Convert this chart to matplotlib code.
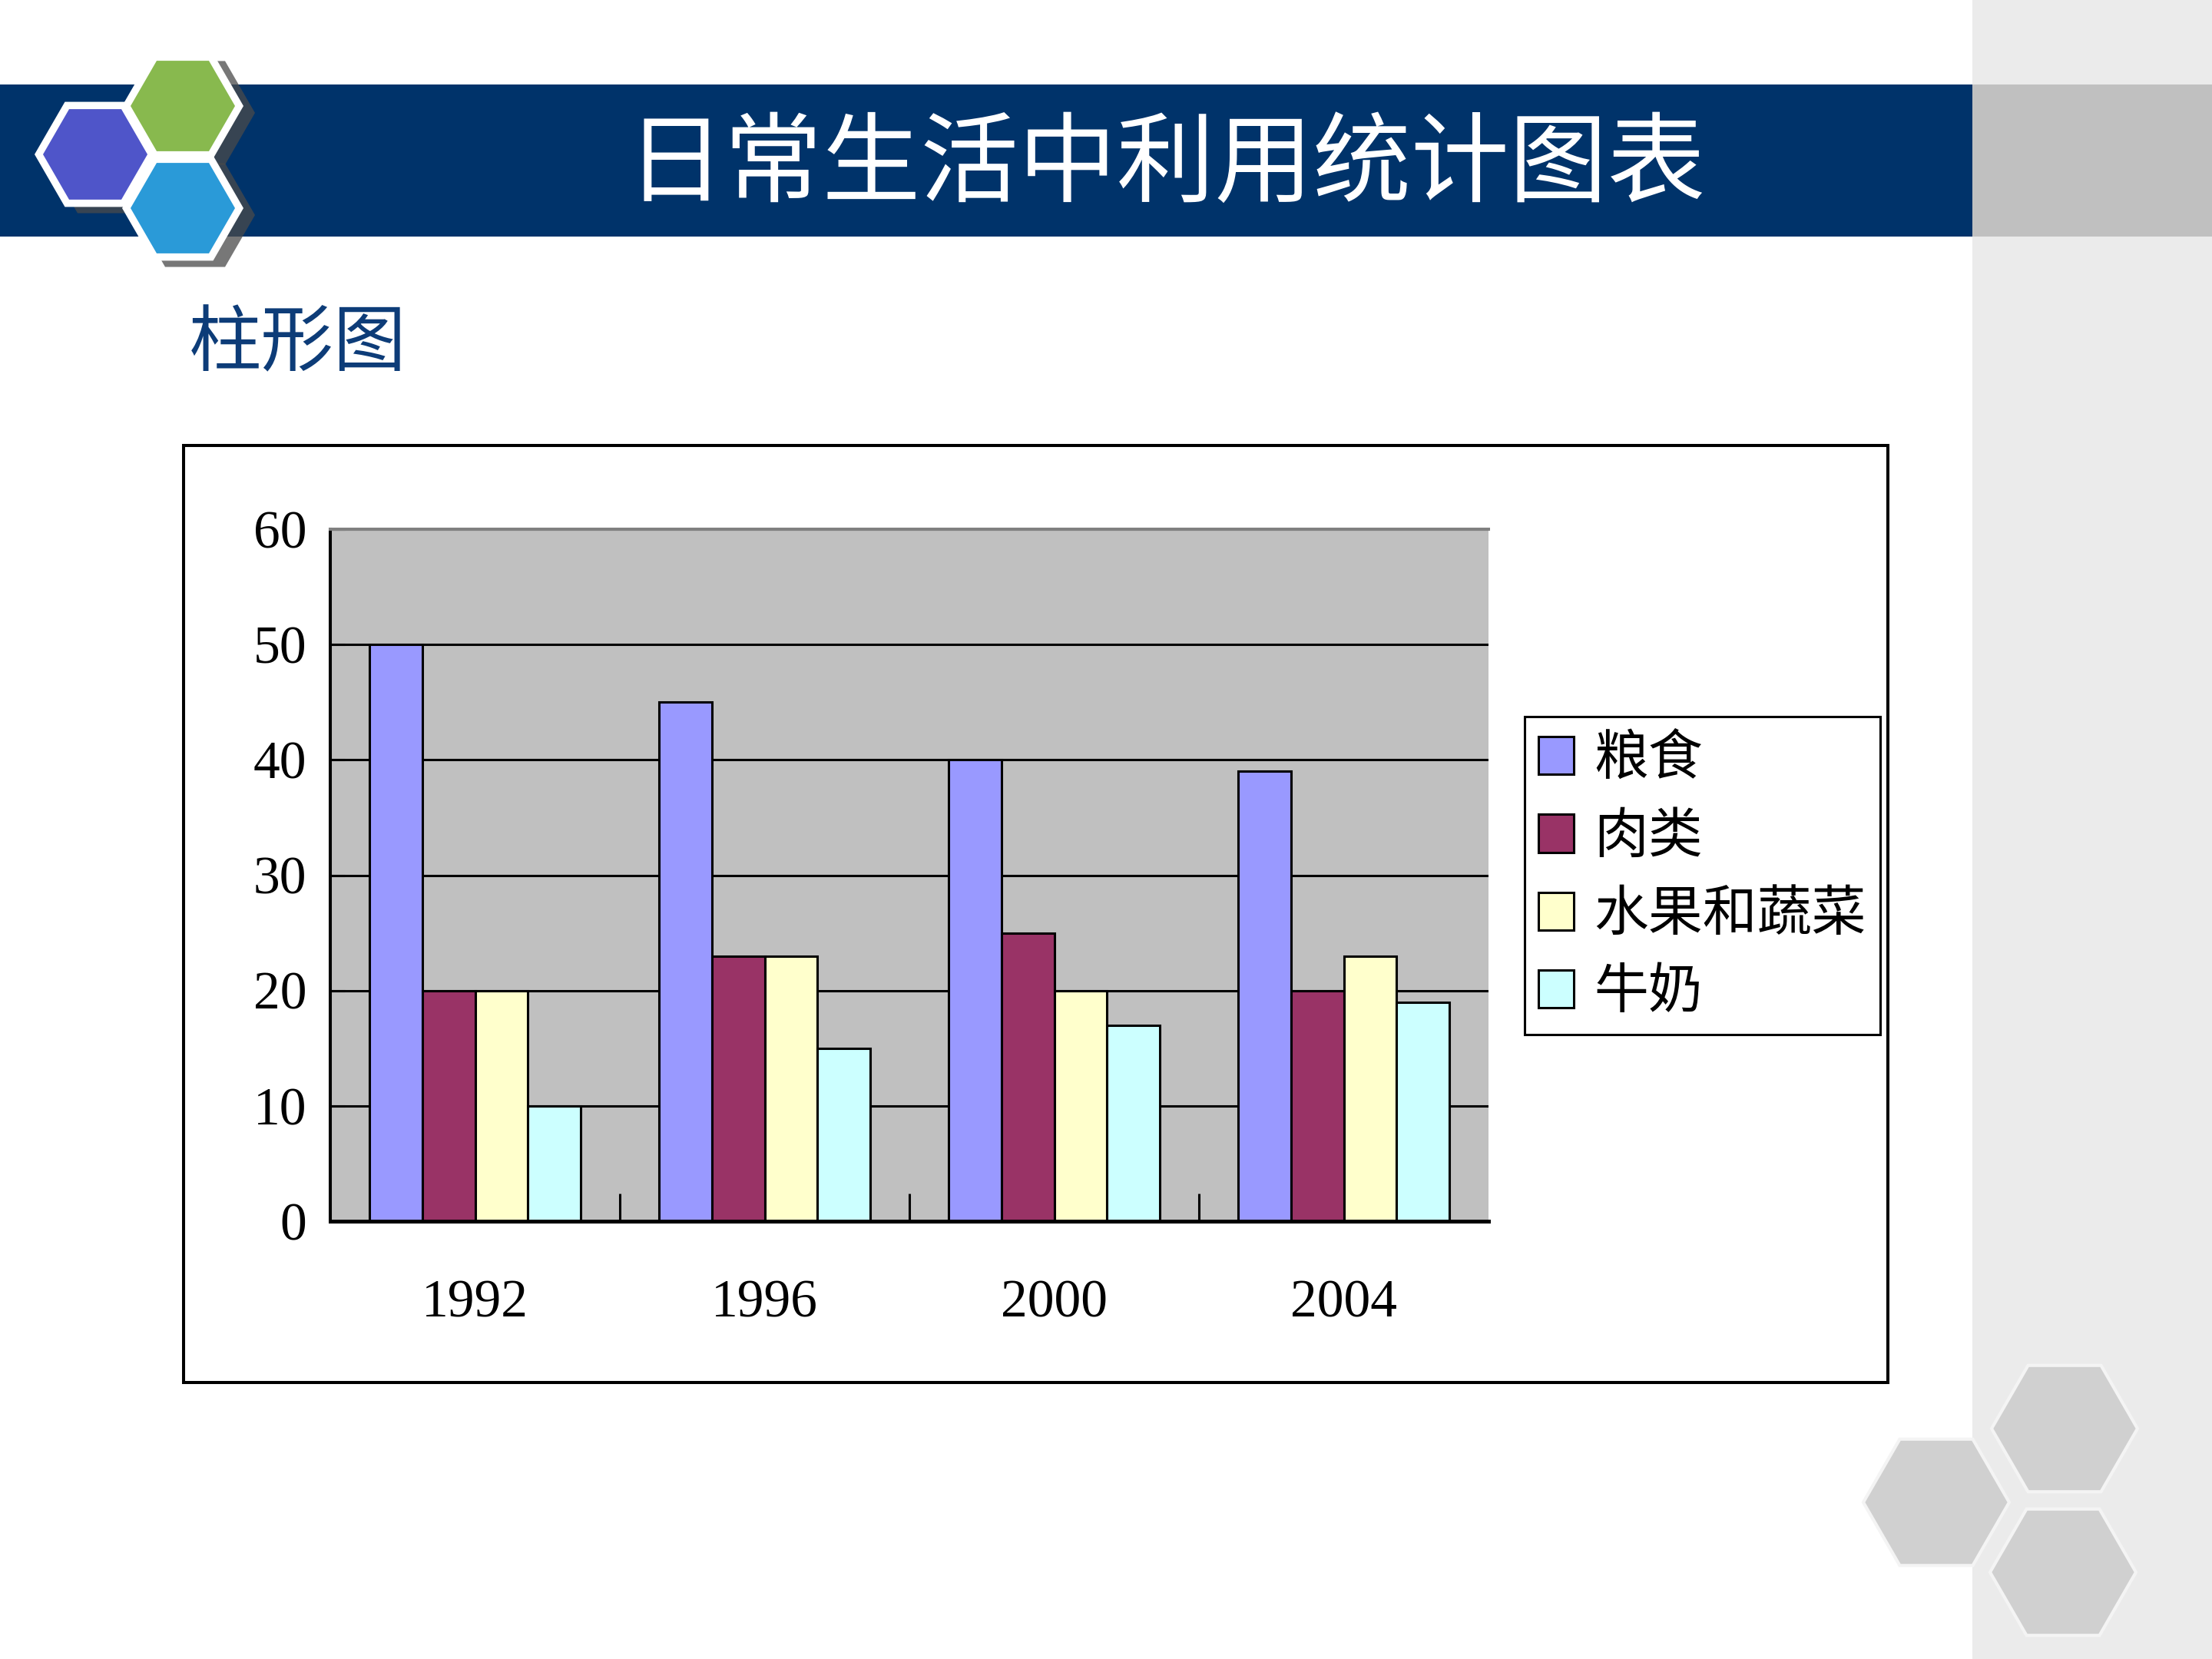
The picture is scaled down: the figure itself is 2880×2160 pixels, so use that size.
import numpy as np
import matplotlib
matplotlib.use("Agg")
import matplotlib.pyplot as plt
from matplotlib.patches import Rectangle, RegularPolygon

plt.rcParams["font.family"] = ["Liberation Serif", "Noto Sans CJK SC"]

years = ["1992", "1996", "2000", "2004"]
series = ["粮食", "肉类", "水果和蔬菜", "牛奶"]
grain = [50, 45, 40, 39]
meat = [20, 23, 25, 20]
fruit_veg = [20, 23, 20, 23]
milk = [10, 15, 17, 19]
colors = ["#9999FF", "#993366", "#FFFFCC", "#CCFFFF"]

W, H = 2880, 2160
fig = plt.figure(figsize=(28.8, 21.6), dpi=100)

# slide background, drawn in pixel coordinates
bg = fig.add_axes([0, 0, 1, 1])
bg.set_xlim(0, W)
bg.set_ylim(H, 0)
bg.axis("off")

bg.add_patch(Rectangle((2568, 0), W - 2568, H, color="#EBEBEB", lw=0))
bg.add_patch(Rectangle((0, 110), 2568, 198, color="#00336A", lw=0))
bg.add_patch(Rectangle((2568, 110), W - 2568, 198, color="#C0C0C0", lw=0))

# logo hexagons
logo = [((124, 201), "#4F55C9"), ((238, 138), "#88B94E"), ((238, 271), "#2A9AD8")]
for (cx, cy), _ in logo:
    bg.add_patch(RegularPolygon((cx + 16, cy + 9), 6, radius=78, orientation=np.pi / 6,
                                color="#4A4A4A", alpha=0.75, lw=0))
for (cx, cy), _ in logo:
    bg.add_patch(RegularPolygon((cx, cy), 6, radius=79, orientation=np.pi / 6,
                                color="white", lw=0))
for (cx, cy), c in logo:
    bg.add_patch(RegularPolygon((cx, cy), 6, radius=68, orientation=np.pi / 6,
                                color=c, lw=0))

# grey hexagons bottom right
for cx, cy in [(2688, 1860), (2521, 1956), (2686, 2047)]:
    bg.add_patch(RegularPolygon((cx, cy), 6, radius=95, orientation=np.pi / 6,
                                facecolor="#D0D0D0", edgecolor="#F4F4F4", lw=3))

bg.text(1518, 218, "日常生活中利用统计图表", color="white", fontsize=92,
        family="Noto Sans CJK SC", ha="center", va="center")
bg.text(388, 448, "柱形图", color="#0D3C78", fontsize=68,
        family="Noto Sans CJK SC", ha="center", va="center")

# chart frame
bg.add_patch(Rectangle((239, 580), 2458 - 239, 1800 - 580, fill=False,
                       edgecolor="black", lw=2.9))

# the chart itself
ax = fig.add_axes([430 / W, 1 - 1590 / H, (1938 - 430) / W, (1590 - 689) / H])
ax.set_facecolor("#C0C0C0")
ax.set_axisbelow(True)

x = np.arange(len(years))
w = 0.1817
for i, (name, vals) in enumerate(zip(series, [grain, meat, fruit_veg, milk])):
    ax.bar(x + (i - 1.5) * w, vals, w, label=name, color=colors[i],
           edgecolor="black", linewidth=2.2, zorder=2)

ax.set_xlim(-0.5, len(years) - 0.5)
ax.set_ylim(0, 60)
ax.set_yticks(range(0, 61, 10))
ax.yaxis.grid(True, color="black", linewidth=2.2)
ax.set_xticks(x)
ax.set_xticklabels(years)
ax.set_xticks(x[:-1] + 0.5, minor=True)

ax.tick_params(axis="y", direction="in", length=14, width=2.2, labelsize=50, pad=22)
ax.tick_params(axis="x", which="major", length=0, labelsize=50, pad=55)
ax.tick_params(axis="x", which="minor", direction="in", length=26, width=2.2)

ax.spines["left"].set_linewidth(2.9)
ax.spines["bottom"].set_linewidth(3.6)
ax.spines["top"].set_color("#808080")
ax.spines["top"].set_linewidth(2.9)
ax.spines["right"].set_visible(False)

leg = ax.legend(loc="upper left", bbox_to_anchor=(1985 / W, 1 - 933 / H),
                bbox_transform=fig.transFigure, borderaxespad=0,
                prop={"family": "Noto Sans CJK SC", "size": 51},
                handlelength=0.65, handleheight=0.7, handletextpad=0.36,
                labelspacing=0.4, borderpad=0.26, fancybox=False, framealpha=1)
leg.get_frame().set_edgecolor("black")
leg.get_frame().set_linewidth(2.2)

fig.savefig("out.png", dpi=100)
